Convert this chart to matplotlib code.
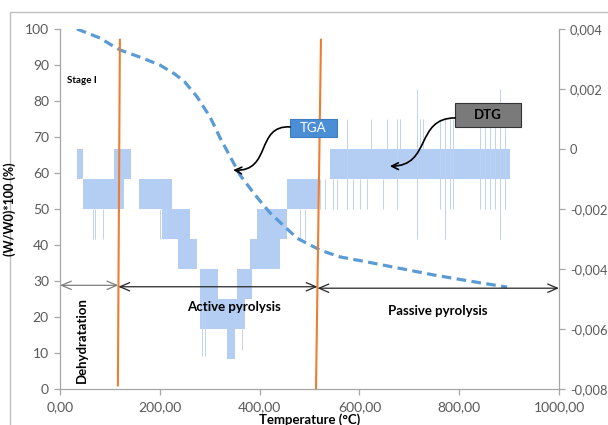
import matplotlib
matplotlib.use("Agg")
import matplotlib.pyplot as plt
from matplotlib.patches import Rectangle, FancyArrowPatch
from matplotlib.path import Path

# ---------------- data ----------------
# TGA curve, left axis (W/W0)*100
TGA_T = [34, 60, 80, 100, 120, 160, 200, 230, 250, 275, 301, 321, 361, 391,
         421, 475, 521, 561, 615, 748, 820, 896]
TGA_W = [100.0, 98.6, 97.5, 95.8, 94.2, 92.2, 90.0, 87.5, 85.3, 81.1, 75.5,
         69.7, 59.4, 53.9, 48.9, 41.9, 38.6, 36.7, 35.3, 31.7, 30.0, 28.3]

# DTG signal (right axis): bands where the noisy trace flips between two levels
DTG_BAND_START = [34, 46, 108, 158, 204, 236, 281, 281, 335, 355, 381, 395, 455, 541]
DTG_BAND_END   = [46, 128, 142, 224, 261, 275, 317, 371, 351, 385, 441, 455, 517, 902]
DTG_BAND_HIGH  = [0, -0.001, 0, -0.001, -0.002, -0.003, -0.004, -0.005, -0.006,
                  -0.004, -0.003, -0.002, -0.001, 0]
DTG_BAND_LOW   = [-0.001, -0.002, -0.001, -0.002, -0.003, -0.004, -0.005, -0.006,
                  -0.007, -0.005, -0.004, -0.003, -0.002, -0.001]

# isolated spikes of the DTG trace
DTG_SPIKE_T  = [66, 70, 86, 200, 206, 212, 285, 291, 365, 481, 491,
                521, 531, 547, 555, 587, 601, 615, 647,
                575, 623, 655, 675, 681, 715,
                721, 727, 761, 771, 782, 788, 842, 852, 862, 872, 882, 892]
DTG_SPIKE_HI = [-0.002, -0.002, -0.002, -0.002, -0.002, -0.002, -0.005, -0.005, -0.006, -0.002, -0.002,
                -0.001, -0.001, -0.001, -0.001, -0.001, -0.001, -0.001, -0.001,
                0.001, 0.001, 0.001, 0.001, 0.001, 0.002,
                0.001, 0.001, 0.001, 0.001, 0.001, 0.001, 0.001, 0.001, 0.001, 0.001, 0.002, 0.001]
DTG_SPIKE_LO = [-0.003, -0.003, -0.003, -0.003, -0.003, -0.003, -0.0069, -0.0069, -0.0067, -0.003, -0.003,
                -0.002, -0.002, -0.002, -0.002, -0.002, -0.002, -0.002, -0.002,
                -0.002, 0, 0, -0.002, 0, -0.003,
                0, 0, -0.002, -0.003, -0.002, -0.002, -0.002, -0.002, -0.002, -0.002, -0.003, -0.002]

# stage boundaries (orange lines), top/bottom ends
STAGE_LINE_T_TOP = [120, 523]
STAGE_LINE_T_BOT = [116, 513]
STAGE_LINE_W_TOP = [97, 97]
STAGE_LINE_W_BOT = [1, 0]

# double arrows marking the stages
STAGE_ARROW_START = [0, 117, 516]
STAGE_ARROW_END   = [117, 516, 1000]
STAGE_ARROW_W     = [28.8, 28.4, 28.0]
STAGE_ARROW_COLOR = ["#7F7F7F", "#262626", "#262626"]

X_TICKS = [0, 200, 400, 600, 800, 1000]
X_TICK_LABELS = ["0,00", "200,00", "400,00", "600,00", "800,00", "1000,00"]
W_TICKS = list(range(0, 101, 10))
DTG_TICKS = [-0.008, -0.006, -0.004, -0.002, 0, 0.002, 0.004]
DTG_TICK_LABELS = ["-0,008", "-0,006", "-0,004", "-0,002", "0", "0,002", "0,004"]

# ------------------------------------------------------------
plt.rcParams["font.family"] = ["Lato", "DejaVu Sans"]

TXT = "#595959"
SPINE = "#A6A6A6"
ORANGE = "#ED7D31"
DASH_BLUE = "#5B9BD5"
DTG_BLUE = "#B3CEF2"

fig = plt.figure(figsize=(6.08, 4.25), dpi=100)
fig.patch.set_facecolor("white")
fig.add_artist(Rectangle((10 / 608, -0.1), 1.0, 1.0718, transform=fig.transFigure,
                         fill=False, edgecolor="#BFBFBF", lw=1.0))

ax = fig.add_axes([60 / 608, 1 - 389 / 425, 499 / 608, 360 / 425])
ax2 = ax.twinx()
ax.set_zorder(ax2.get_zorder() + 1)
ax.patch.set_visible(False)

# DTG on the right axis
ax2.bar(DTG_BAND_START,
        [h - l for h, l in zip(DTG_BAND_HIGH, DTG_BAND_LOW)],
        width=[e - s for s, e in zip(DTG_BAND_START, DTG_BAND_END)],
        bottom=DTG_BAND_LOW, align="edge", color=DTG_BLUE, linewidth=0)
ax2.vlines(DTG_SPIKE_T, DTG_SPIKE_LO, DTG_SPIKE_HI, color="#BCD3F2", lw=0.7)
ax2.set_ylim(-0.008, 0.004)
ax2.set_yticks(DTG_TICKS)
ax2.set_yticklabels(DTG_TICK_LABELS)

# TGA on the left axis
ax.plot(TGA_T, TGA_W, color=DASH_BLUE, lw=2.3, dashes=(3.0, 1.7))
for tt, tb, wt, wb in zip(STAGE_LINE_T_TOP, STAGE_LINE_T_BOT, STAGE_LINE_W_TOP, STAGE_LINE_W_BOT):
    ax.plot([tt, tb], [wt, wb], color=ORANGE, lw=1.5)
for s, e, w, c in zip(STAGE_ARROW_START, STAGE_ARROW_END, STAGE_ARROW_W, STAGE_ARROW_COLOR):
    ax.annotate("", xy=(e, w), xytext=(s, w),
                arrowprops=dict(arrowstyle="<->,head_length=0.7,head_width=0.3",
                                color=c, lw=0.9, shrinkA=0, shrinkB=0))

ax.set_xlim(0, 1000)
ax.set_ylim(0, 100)
ax.set_xticks(X_TICKS)
ax.set_xticklabels(X_TICK_LABELS)
ax.set_yticks(W_TICKS)

for a in (ax, ax2):
    a.spines["top"].set_visible(False)
    for sp in a.spines.values():
        sp.set_color(SPINE)
        sp.set_linewidth(0.9)
ax2.spines["left"].set_visible(False)
ax2.spines["bottom"].set_visible(False)
ax.spines["right"].set_visible(False)

ax.tick_params(axis="both", colors=SPINE, labelcolor=TXT, labelsize=10,
               length=4, width=0.9, direction="out")
ax.tick_params(axis="y", pad=4)
ax.tick_params(axis="x", pad=5)
ax2.tick_params(axis="y", colors=SPINE, labelcolor=TXT, labelsize=9.3,
                length=4, width=0.9, direction="out", pad=4)

ax.set_xlabel("Temperature (°C)", fontsize=9.5, fontweight="bold", color="black", labelpad=0)
ax.set_ylabel("(W/W0)*100 (%)", fontsize=9, fontweight="bold", color="black", labelpad=6)

# stage labels
ax.text(14, 85.8, "Stage I", fontsize=7, fontweight="bold", ha="left", va="center")
ax.text(44, 13.6, "Dehydratation", fontsize=9.5, fontweight="bold", rotation=90,
        ha="center", va="center")
ax.text(349, 22.8, "Active pyrolysis", fontsize=9.5, fontweight="bold", ha="center", va="center")
ax.text(757, 21.7, "Passive pyrolysis", fontsize=9.5, fontweight="bold", ha="center", va="center")

# callout boxes
ax.add_patch(Rectangle((0.461, 0.70), 0.094, 0.05, transform=ax.transAxes,
                       facecolor="#4C8ED6", edgecolor="#3F7CC0", lw=0.8, zorder=5))
ax.text(0.508, 0.725, "TGA", transform=ax.transAxes, color="white", fontsize=9.5,
        ha="center", va="center", zorder=6)
ax.add_patch(Rectangle((0.792, 0.728), 0.132, 0.066, transform=ax.transAxes,
                       facecolor="#7A7A7A", edgecolor="#333333", lw=0.8, zorder=5))
ax.text(0.858, 0.761, "DTG", transform=ax.transAxes, color="black", fontsize=9.5,
        fontweight="bold", ha="center", va="center", zorder=6)

curve = [Path.MOVETO, Path.CURVE4, Path.CURVE4, Path.CURVE4]
ax.add_patch(FancyArrowPatch(path=Path([(0.461, 0.728), (0.391, 0.733), (0.425, 0.603), (0.347, 0.608)], curve),
                             arrowstyle="->", mutation_scale=12, lw=1.2, color="black",
                             transform=ax.transAxes, zorder=6))
ax.add_patch(FancyArrowPatch(path=Path([(0.792, 0.753), (0.711, 0.753), (0.745, 0.619), (0.661, 0.619)], curve),
                             arrowstyle="->", mutation_scale=12, lw=1.2, color="black",
                             transform=ax.transAxes, zorder=6))

fig.savefig("out.png", dpi=100)
